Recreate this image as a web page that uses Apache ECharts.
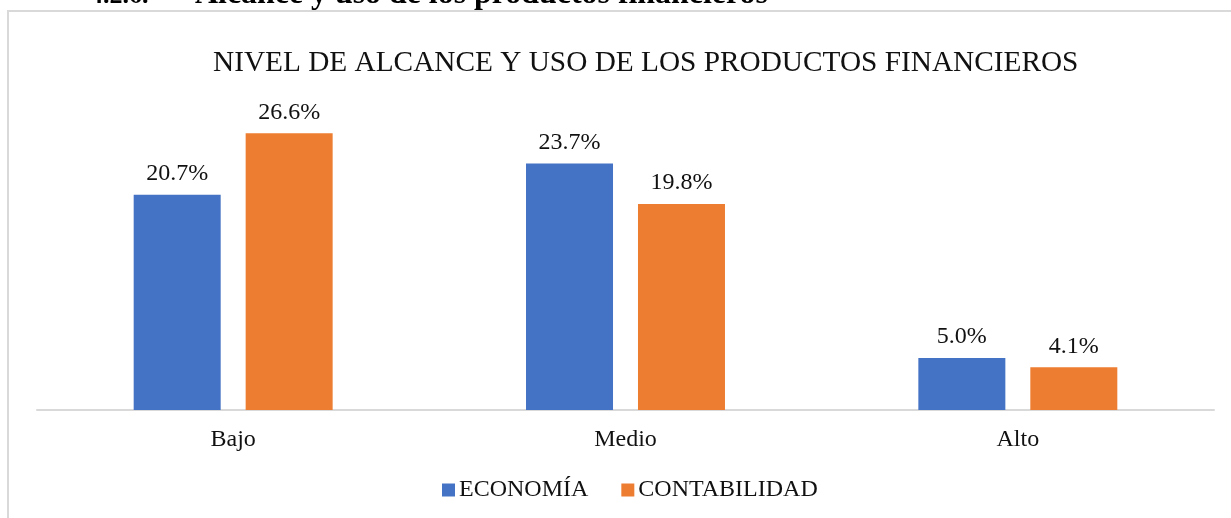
<!DOCTYPE html>
<html>
<head>
<meta charset="utf-8">
<script src="https://cdn.jsdelivr.net/npm/echarts@6/dist/echarts.min.js"></script>
<style>
    html, body { margin: 0; padding: 0; background: #fff; }
    #chart { width: 1231px; height: 518px; }
</style>
</head>
<body>
<div id="chart"></div>
<script>

// Chart data
// ------------------------------

var categories = ['Bajo', 'Medio', 'Alto'];
var economia = [20.7, 23.7, 5.0];
var contabilidad = [26.6, 19.8, 4.1];
var seriesNames = ['ECONOMÍA', 'CONTABILIDAD'];
var chartTitle = 'NIVEL DE ALCANCE Y USO DE LOS PRODUCTOS FINANCIEROS';
var headingNumber = '4.2.6.';
var headingText = 'Alcance y uso de los productos financieros';


// Setup chart
// ------------------------------

var chart_element = document.getElementById('chart');
var chart = echarts.init(chart_element);

var fontFamily = '"Liberation Serif", "Times New Roman", serif';

// Common label style
var valueLabel = {
    show: true,
    position: 'top',
    distance: 9,
    color: '#111',
    fontFamily: fontFamily,
    fontSize: 24,
    formatter: function (p) {
        return p.value.toFixed(1) + '%';
    }
};

chart.setOption({

    animation: false,

    textStyle: {
        fontFamily: fontFamily,
        color: '#111'
    },

    // Frame and cut-off heading above it
    graphic: [
        {
            type: 'rect',
            silent: true,
            shape: { x: 8, y: 11, width: 1240, height: 530 },
            style: { fill: 'none', stroke: '#d9d9d9', lineWidth: 2 }
        },
        {
            type: 'text',
            silent: true,
            x: 90,
            y: 9.5,
            style: {
                text: headingNumber,
                font: 'bold 26px ' + fontFamily,
                fill: '#000',
                verticalAlign: 'bottom'
            }
        },
        {
            type: 'text',
            silent: true,
            x: 195,
            y: 10.5,
            style: {
                text: headingText,
                font: 'bold 31.9px ' + fontFamily,
                fill: '#000',
                verticalAlign: 'bottom'
            }
        }
    ],

    title: {
        text: chartTitle,
        left: 208,
        top: 44,
        textStyle: {
            fontFamily: fontFamily,
            fontSize: 29.3,
            fontWeight: 'normal',
            color: '#111'
        }
    },

    legend: {
        data: seriesNames,
        bottom: 11,
        left: 437,
        itemWidth: 13,
        itemHeight: 13,
        itemGap: 33,
        icon: 'rect',
        textStyle: {
            fontFamily: fontFamily,
            fontSize: 24,
            color: '#111',
            padding: [0, 0, 0, -1]
        }
    },

    grid: {
        left: 37,
        right: 17,
        top: 98,
        bottom: 108
    },

    xAxis: {
        type: 'category',
        data: categories,
        axisTick: { show: false },
        axisLine: {
            lineStyle: { color: '#d9d9d9', width: 2 }
        },
        axisLabel: {
            margin: 18,
            fontFamily: fontFamily,
            fontSize: 24,
            color: '#111'
        }
    },

    yAxis: {
        type: 'value',
        min: 0,
        max: 30,
        show: false,
        splitLine: { show: false }
    },

    series: [
        {
            name: seriesNames[0],
            type: 'bar',
            barWidth: 87,
            barGap: '28.7%',
            itemStyle: { color: '#4472C4' },
            label: valueLabel,
            data: economia
        },
        {
            name: seriesNames[1],
            type: 'bar',
            barWidth: 87,
            itemStyle: { color: '#ED7D31' },
            label: valueLabel,
            data: contabilidad
        }
    ]
});

</script>
</body>
</html>
